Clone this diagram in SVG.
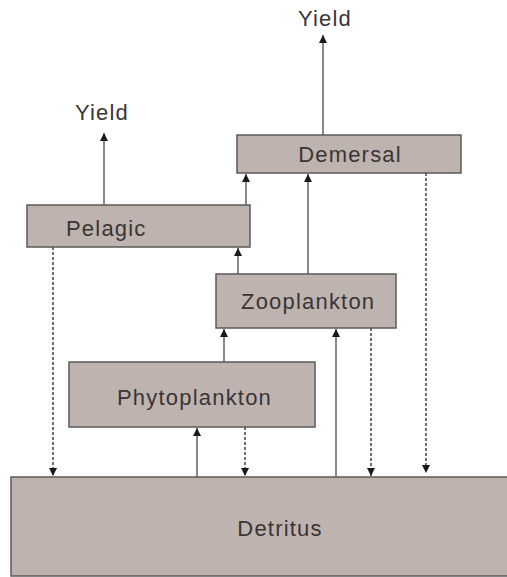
<svg xmlns="http://www.w3.org/2000/svg" width="507" height="577" viewBox="0 0 507 577">
<style>
.box{fill:#bfb3b0;stroke:#5a5a5a;stroke-width:1.5}
.lbl{font-family:"Liberation Sans",Arial,sans-serif;font-size:22px;fill:#3a3535;letter-spacing:1.2px}
.solid{stroke:#555;stroke-width:1.4;fill:none;marker-end:url(#ah)}
.dot{stroke:#333;stroke-width:1.4;fill:none;stroke-dasharray:3 2;marker-end:url(#ah)}
</style>
<defs>
<marker id="ah" viewBox="0 0 8 10" refX="8" refY="5" markerWidth="8" markerHeight="10" markerUnits="userSpaceOnUse" orient="auto">
<path d="M0,1 L8,5 L0,9 Z" fill="#1a1a1a"/>
</marker>
</defs>
<rect width="507" height="577" fill="#fff"/>
<g id="connectors">
<line class="solid" x1="323" y1="135" x2="323" y2="35"/>
<line class="solid" x1="104" y1="205" x2="104" y2="133"/>
<line class="solid" x1="246" y1="205" x2="246" y2="174"/>
<line class="solid" x1="308" y1="274" x2="308" y2="174"/>
<line class="solid" x1="238" y1="274" x2="238" y2="248"/>
<line class="solid" x1="224" y1="362" x2="224" y2="329"/>
<line class="solid" x1="336" y1="477" x2="336" y2="329"/>
<line class="solid" x1="197" y1="477" x2="197" y2="428"/>
<line class="dot" x1="53" y1="247" x2="53" y2="476"/>
<line class="dot" x1="245" y1="427" x2="245" y2="476"/>
<line class="dot" x1="371" y1="328" x2="371" y2="476"/>
<line class="dot" x1="426" y1="173" x2="426" y2="473"/>
</g>
<g id="yield-top"><text class="lbl" x="325" y="26" text-anchor="middle">Yield</text></g>
<g id="yield-left"><text class="lbl" x="102" y="120" text-anchor="middle">Yield</text></g>
<g id="demersal">
<rect class="box" x="237" y="135" width="224" height="38"/>
<text class="lbl" x="350" y="162" text-anchor="middle">Demersal</text>
</g>
<g id="pelagic">
<rect class="box" x="27" y="205" width="223" height="42"/>
<text class="lbl" x="66" y="236">Pelagic</text>
</g>
<g id="zooplankton">
<rect class="box" x="216" y="274" width="180" height="54"/>
<text class="lbl" x="241" y="309">Zooplankton</text>
</g>
<g id="phytoplankton">
<rect class="box" x="69" y="362" width="246" height="65"/>
<text class="lbl" x="117" y="405">Phytoplankton</text>
</g>
<g id="detritus">
<rect x="11" y="477" width="500" height="99" fill="#bfb3b0"/>
<path d="M507,477 H11 V576 H507" fill="none" stroke="#5a5a5a" stroke-width="1.5"/>
<text class="lbl" x="280" y="536" text-anchor="middle">Detritus</text>
</g>
</svg>
